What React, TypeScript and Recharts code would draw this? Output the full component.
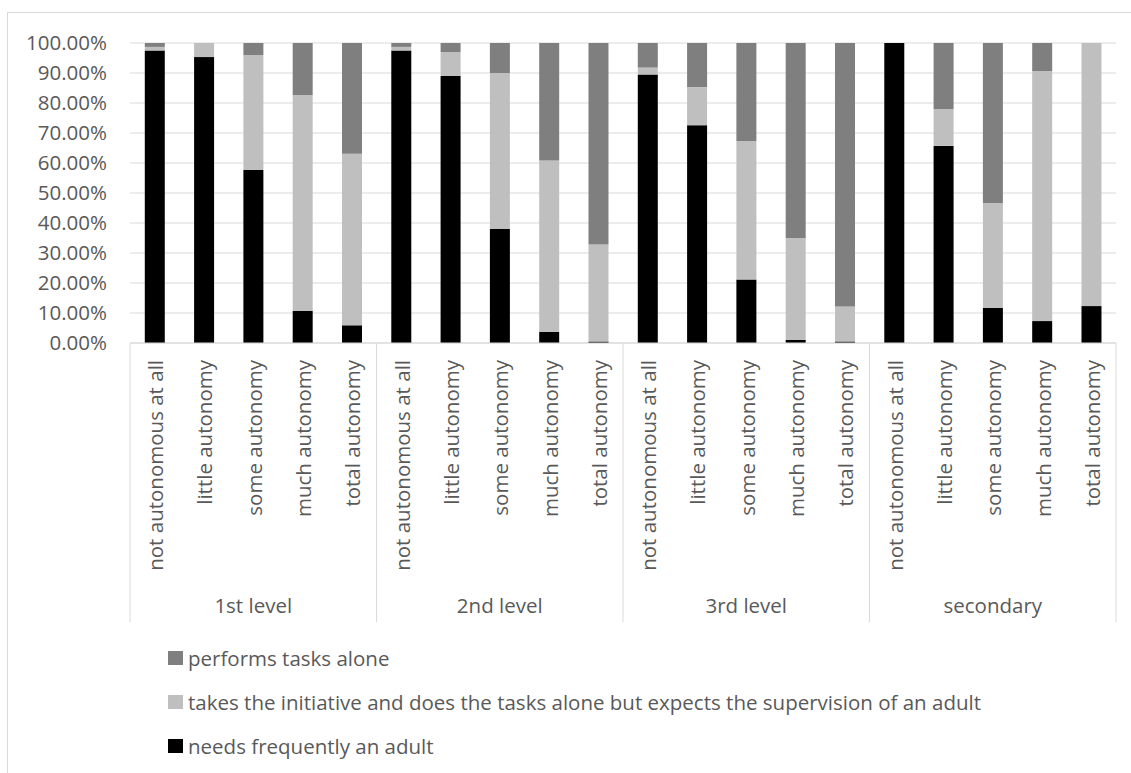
import React from 'react';
import { BarChart, Bar, XAxis, YAxis, CartesianGrid, Legend } from 'recharts';

const categories = [
  'not autonomous at all',
  'little autonomy',
  'some autonomy',
  'much autonomy',
  'total autonomy',
];
const groups = ['1st level', '2nd level', '3rd level', 'secondary'];

// needs frequently an adult
const needsAdult = [
  97.5, 95.3, 57.7, 10.7, 5.9,
  97.5, 89.0, 38.1, 3.7, 0.5,
  89.5, 72.6, 21.2, 1.0, 0.5,
  100, 65.7, 11.7, 7.3, 12.3,
];
// takes the initiative ... expects the supervision of an adult
const takesInitiative = [
  1.2, 4.7, 38.3, 72.0, 57.2,
  1.2, 8.0, 51.9, 57.1, 32.3,
  2.3, 12.7, 46.1, 34.0, 11.7,
  0, 12.2, 35.0, 83.3, 87.7,
];
// performs tasks alone
const performsAlone = [
  1.3, 0, 4.0, 17.3, 36.9,
  1.3, 3.0, 10.0, 39.2, 67.2,
  8.2, 14.7, 32.7, 65.0, 87.8,
  0, 22.1, 53.3, 9.4, 0,
];
const yTicks = [0, 10, 20, 30, 40, 50, 60, 70, 80, 90, 100];

const legendItems = [
  { label: 'performs tasks alone', color: '#7f7f7f' },
  { label: 'takes the initiative and does the tasks alone but expects the supervision of an adult', color: '#bfbfbf' },
  { label: 'needs frequently an adult', color: '#000000' },
];

const data = groups.flatMap((g, gi) =>
  categories.map((c, ci) => {
    const i = gi * categories.length + ci;
    return {
      cat: c,
      group: g,
      needs: needsAdult[i],
      takes: takesInitiative[i],
      performs: performsAlone[i],
    };
  })
);

const FONT = '"Open Sans", sans-serif';
const TEXT = '#595959';
const GRID = '#d9d9d9';
const FS = 20.5;
const CAT_MARGIN = 17;
const SEP_BOTTOM = 622;

const CategoryTick = (props: any) => {
  const { x, y, payload, index } = props;
  const half = payload && payload.offset ? payload.offset : 24.65;
  const axisY = y - CAT_MARGIN;
  return (
    <g>
      {index % categories.length === 0 && (
        <line x1={x - half} x2={x - half} y1={axisY} y2={SEP_BOTTOM} stroke={GRID} strokeWidth={1} />
      )}
      {index === data.length - 1 && (
        <line x1={x + half} x2={x + half} y1={axisY} y2={SEP_BOTTOM} stroke={GRID} strokeWidth={1} />
      )}
      <text
        x={x}
        y={y}
        transform={`rotate(-90 ${x} ${y})`}
        textAnchor="end"
        dy={8.5}
        fill={TEXT}
        fontSize={FS}
        fontFamily={FONT}
      >
        {payload.value}
      </text>
    </g>
  );
};

const GroupTick = (props: any) => {
  const { x, y, payload, index } = props;
  if (index % categories.length !== 2) return <g />;
  return (
    <text x={x} y={y + 33} textAnchor="middle" dy="0.35em" fill={TEXT} fontSize={FS} fontFamily={FONT}>
      {payload.value}
    </text>
  );
};

const LegendContent = () => (
  <div style={{ fontFamily: FONT, fontSize: FS, color: TEXT }}>
    {legendItems.map((it) => (
      <div key={it.label} style={{ display: 'flex', alignItems: 'center', height: 44, whiteSpace: 'nowrap' }}>
        <span style={{ display: 'inline-block', width: 15, height: 14, background: it.color, marginRight: 5 }} />
        <span>{it.label}</span>
      </div>
    ))}
  </div>
);

export default function App() {
  return (
    <div style={{ position: 'fixed', left: 0, top: 0, width: 1131, height: 773, overflow: 'hidden', background: '#fff' }}>
      <div
        style={{
          position: 'absolute',
          left: 7,
          top: 12,
          width: 1200,
          height: 900,
          border: `1px solid ${GRID}`,
          boxSizing: 'border-box',
        }}
      />
      <div style={{ position: 'absolute', left: 0, top: 0 }}>
        <BarChart
          width={1131}
          height={773}
          data={data}
          margin={{ top: 43, right: 15, left: 0, bottom: 150 }}
          barCategoryGap="30%"
        >
          <CartesianGrid vertical={false} stroke={GRID} strokeWidth={1} />
          <XAxis
            xAxisId="cat"
            dataKey="cat"
            interval={0}
            height={230}
            tickSize={0}
            tickMargin={CAT_MARGIN}
            tickLine={false}
            axisLine={{ stroke: GRID }}
            tick={<CategoryTick />}
          />
          <XAxis
            xAxisId="group"
            dataKey="group"
            interval={0}
            height={50}
            tickSize={0}
            tickMargin={0}
            tickLine={false}
            axisLine={false}
            tick={<GroupTick />}
          />
          <YAxis
            width={130}
            domain={[0, 100]}
            ticks={yTicks}
            interval={0}
            tickSize={0}
            tickMargin={23}
            tickLine={false}
            axisLine={false}
            tickFormatter={(v: number) => `${v.toFixed(2)}%`}
            tick={{ fill: TEXT, fontSize: FS, fontFamily: FONT }}
          />
          <Bar xAxisId="cat" dataKey="needs" stackId="a" fill="#000000" isAnimationActive={false} />
          <Bar xAxisId="cat" dataKey="takes" stackId="a" fill="#bfbfbf" isAnimationActive={false} />
          <Bar xAxisId="cat" dataKey="performs" stackId="a" fill="#7f7f7f" isAnimationActive={false} />
          <Legend
            layout="vertical"
            align="center"
            verticalAlign="middle"
            wrapperStyle={{ left: 168, top: 636, width: 950, height: 132 }}
            content={() => <LegendContent />}
          />
        </BarChart>
      </div>
    </div>
  );
}
